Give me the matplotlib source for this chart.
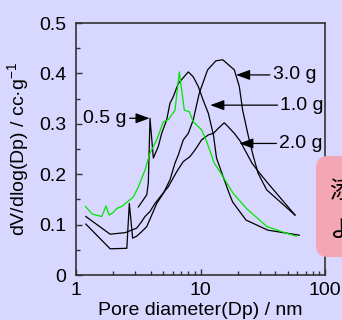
import matplotlib
matplotlib.use('Agg')
import matplotlib.pyplot as plt
from matplotlib.ticker import FixedLocator, FuncFormatter, LogLocator, NullFormatter
from matplotlib.patches import FancyBboxPatch

plt.rcParams['font.family'] = ['Liberation Sans', 'DejaVu Sans']
plt.rcParams['mathtext.fontset'] = 'custom'
plt.rcParams['mathtext.rm'] = 'Liberation Sans'
plt.rcParams['mathtext.it'] = 'Liberation Sans:italic'

# pore diameter (nm) and dV/dlog(Dp)
green_d = [1.19, 1.35, 1.61, 1.74, 1.85, 1.99, 2.12, 2.33, 2.89, 3.17, 3.58, 3.93, 4.45,
           5.03, 5.51, 6.24, 6.76, 7.41, 8.13, 8.75, 10.2, 11.2, 12.9, 14.3, 18.3, 23.6,
           34.2, 48.9, 58.8]
green_v = [0.136, 0.121, 0.116, 0.137, 0.119, 0.124, 0.132, 0.136, 0.155, 0.175, 0.208,
           0.242, 0.268, 0.304, 0.308, 0.327, 0.403, 0.327, 0.324, 0.304, 0.288, 0.265,
           0.222, 0.205, 0.162, 0.131, 0.096, 0.083, 0.077]

b1_d = [3.17, 3.70, 3.81, 3.93, 4.18, 4.58, 4.88, 5.35, 5.69, 6.05, 6.63, 7.98, 8.75,
        9.60, 10.5, 11.55, 12.7, 13.45, 15.2, 17.0, 18.1, 23.2, 34.7, 62.2]
b1_v = [0.135, 0.159, 0.183, 0.311, 0.232, 0.255, 0.281, 0.308, 0.341, 0.354, 0.380,
        0.403, 0.393, 0.374, 0.347, 0.321, 0.278, 0.232, 0.195, 0.162, 0.145, 0.109,
        0.089, 0.079]

b2_d = [1.20, 1.88, 2.56, 2.68, 2.85, 3.07, 3.37, 3.70, 4.06, 4.45, 5.03, 5.69, 6.24,
        6.63, 7.27, 7.98, 8.75, 9.78, 11.4, 13.3, 15.1, 18.7, 20.5, 21.8, 24.1, 26.4,
        29.0, 34.0, 57.4]
b2_v = [0.101, 0.052, 0.053, 0.142, 0.073, 0.077, 0.086, 0.096, 0.119, 0.142, 0.162,
        0.189, 0.222, 0.238, 0.268, 0.281, 0.308, 0.361, 0.407, 0.425, 0.427, 0.407,
        0.374, 0.327, 0.278, 0.238, 0.202, 0.169, 0.119]

b3_d = [1.20, 1.88, 2.48, 3.07, 3.37, 3.58, 3.93, 4.31, 4.88, 5.51, 6.44, 7.27, 8.24,
        9.03, 10.2, 11.55, 12.7, 13.9, 15.5, 16.7, 18.7, 20.8, 23.2, 25.9, 29.0, 34.0, 57.4]
b3_v = [0.116, 0.081, 0.084, 0.093, 0.106, 0.116, 0.126, 0.142, 0.159, 0.175, 0.205,
        0.225, 0.235, 0.248, 0.268, 0.278, 0.281, 0.291, 0.302, 0.294, 0.281, 0.266,
        0.244, 0.222, 0.206, 0.185, 0.119]

# labels: text, arrow tip (d, v), text start (d, v)
labels = ['0.5 g', '3.0 g', '1.0 g', '2.0 g']
tips = [(3.90, 0.311), (19.3, 0.397), (11.98, 0.337), (20.5, 0.261)]
starts = [(1.144, 0.311), (38.0, 0.397), (43.8, 0.337), (42.9, 0.261)]

bg = '#D7D7FF'
fig = plt.figure(figsize=(3.42, 3.2), dpi=100, facecolor=bg)
ax = fig.add_axes([76/342, 1-275/320, 249/342, 252/320], facecolor=bg)

ax.plot(b2_d, b2_v, color='black', lw=0.9)
ax.plot(b3_d, b3_v, color='black', lw=0.9)
ax.plot(b1_d, b1_v, color='black', lw=0.9)
ax.plot(green_d, green_v, color='#00E600', lw=0.9)

ax.set_xscale('log')
ax.set_xlim(1, 100)
ax.set_ylim(0, 0.5)
ax.xaxis.set_major_locator(FixedLocator([1, 10, 100]))
ax.xaxis.set_major_formatter(FuncFormatter(lambda x, p: '%g' % x))
ax.xaxis.set_minor_locator(LogLocator(base=10, subs=range(2, 10)))
ax.xaxis.set_minor_formatter(NullFormatter())
ax.yaxis.set_major_locator(FixedLocator([0, 0.1, 0.2, 0.3, 0.4, 0.5]))
ax.yaxis.set_major_formatter(FuncFormatter(lambda y, p: '0' if y == 0 else '%.1f' % y))
ax.yaxis.set_minor_locator(FixedLocator([0.05, 0.15, 0.25, 0.35, 0.45]))

ax.tick_params(which='both', direction='in', colors='#333333', labelcolor='black',
               labelsize=14)
ax.tick_params(which='major', length=4.5, width=1)
ax.tick_params(which='minor', length=2.8, width=1)
ax.tick_params(axis='x', pad=5)
ax.tick_params(axis='y', pad=7)
for s in ax.spines.values():
    s.set_color('#333333')
    s.set_linewidth(1.2)

ax.set_xlabel('Pore diameter(Dp) / nm', fontsize=14, labelpad=2)
ax.set_ylabel('dV/dlog(Dp) / cc·g$^{-1}$', fontsize=14, labelpad=6)

for t, tip, st in zip(labels, tips, starts):
    ax.annotate(t, xy=tip, xytext=st, fontsize=14, ha='left', va='center',
                arrowprops=dict(arrowstyle='-|>,head_length=0.6,head_width=0.22',
                                color='black', lw=0.9, shrinkA=0, shrinkB=0,
                                relpos=(0, 0.5)))

# pink note box cut by the right edge
box = FancyBboxPatch((3.16, 0.63), 0.6, 1.01, boxstyle='round,pad=0,rounding_size=0.12',
                     transform=fig.dpi_scale_trans, facecolor='#F5A6B4', edgecolor='none',
                     zorder=5)
fig.add_artist(box)
fig.text(329/342, 1-192/320, '添', fontsize=17, family=['Noto Sans CJK JP'],
         ha='left', va='center', zorder=6)
fig.text(329/342, 1-230/320, 'よ', fontsize=17, family=['Noto Sans CJK JP'],
         ha='left', va='center', zorder=6)

fig.savefig('out.png', dpi=100, facecolor=bg)
